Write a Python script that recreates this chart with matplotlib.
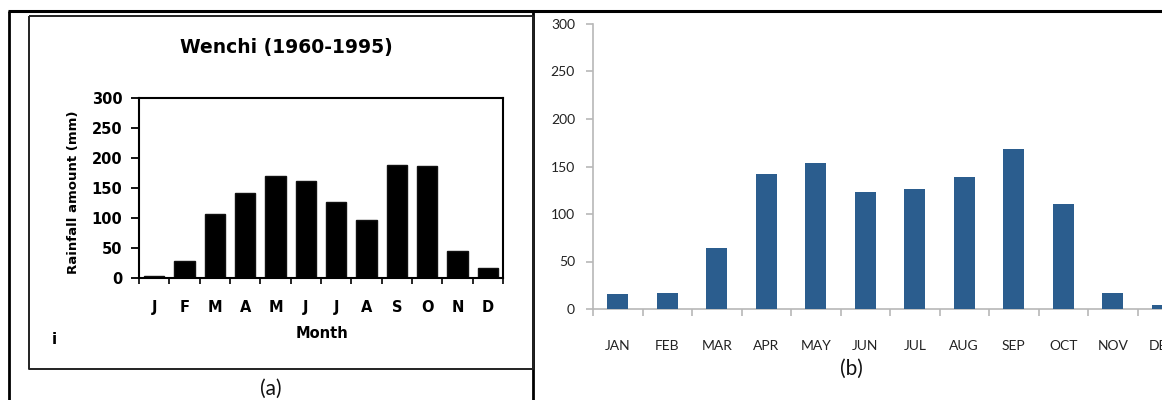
import matplotlib

matplotlib.use("Agg")
import matplotlib.pyplot as plt
import numpy as np
from matplotlib.lines import Line2D

W, H = 1162, 400

# (a) Wenchi 1960-1995, scanned figure
months_a = ["J", "F", "M", "A", "M", "J", "J", "A", "S", "O", "N", "D"]
rain_a = [4, 28, 107, 142, 170, 161, 127, 97, 189, 186, 45, 16]

# (b) re-drawn monthly rainfall
months_b = ["JAN", "FEB", "MAR", "APR", "MAY", "JUN", "JUL", "AUG", "SEP", "OCT", "NOV", "DEC"]
rain_b = [16, 17, 64, 142, 154, 123, 126, 139, 168, 111, 17, 4]

yticks = [0, 50, 100, 150, 200, 250, 300]


def px(x, y):
    """pixel coords (top-left origin) -> figure fraction"""
    return x / W, 1 - y / H


def fig_line(fig, xs, ys, lw=2.0, color="black"):
    fx = [x / W for x in xs]
    fy = [1 - y / H for y in ys]
    fig.add_artist(Line2D(fx, fy, transform=fig.transFigure, color=color, lw=lw,
                          solid_capstyle="butt"))


fig = plt.figure(figsize=(W / 100, H / 100), dpi=100)

# table-like frame around both panels
fig_line(fig, [8, W], [11, 11], lw=2.2)
fig_line(fig, [9, 9], [11, H], lw=2.0)
fig_line(fig, [533, 533], [11, H], lw=2.0)
# box of the scanned figure
fig_line(fig, [29, 533, 533, 29, 29], [16, 16, 369, 369, 16], lw=1.4, color="#222222")

# ---- panel (a) ----
ax = fig.add_axes([139 / W, 1 - 278 / H, 364 / W, 180 / H])
x = np.arange(len(months_a))
ax.bar(x, rain_a, width=0.66, color="black", edgecolor="#111111")
ax.set_xlim(-0.5, 11.5)
ax.set_ylim(0, 300)
ax.set_yticks(yticks)
ax.set_xticks(x)
ax.set_xticklabels(months_a)
ax.set_xticks(np.arange(-0.5, 12, 1), minor=True)
for s in ax.spines.values():
    s.set_linewidth(1.5)
ax.tick_params(axis="x", which="major", length=0, pad=16)
ax.tick_params(axis="x", which="minor", length=4, width=1.2, direction="out")
ax.tick_params(axis="y", length=6, width=1.3, pad=6)
for lab in ax.get_xticklabels():
    lab.set_fontweight("bold")
    lab.set_fontsize(10.5)
for lab in ax.get_yticklabels():
    lab.set_fontweight("bold")
    lab.set_fontsize(10.5)

fig.text(*px(286, 48), "Wenchi (1960-1995)", ha="center", va="center",
         fontsize=13.5, fontweight="bold")
fig.text(*px(74, 192), "Rainfall amount (mm)", ha="center", va="center",
         rotation=90, fontsize=9.5, fontweight="bold")
fig.text(*px(322, 333), "Month", ha="center", va="center", fontsize=10.5,
         fontweight="bold")
fig.text(*px(54, 340), "i", ha="center", va="center", fontsize=11, fontweight="bold")
fig.text(*px(271, 389), "(a)", ha="center", va="center", fontsize=15,
         family="Lato", color="#111111")

# ---- panel (b) ----
gray = "#b8b8b8"
bx = fig.add_axes([593 / W, 1 - 309 / H, 594 / W, 285 / H])
xb = np.arange(len(months_b))
bx.bar(xb, rain_b, width=0.42, color="#2b5d8e", zorder=3)
bx.set_xlim(-0.5, 11.5)
bx.set_ylim(0, 300)
bx.set_yticks(yticks)
bx.set_xticks(xb)
bx.set_xticklabels(months_b)
bx.set_xticks(np.arange(-0.5, 12, 1), minor=True)
for side in ("top", "right"):
    bx.spines[side].set_visible(False)
for side in ("left", "bottom"):
    bx.spines[side].set_color(gray)
    bx.spines[side].set_linewidth(1.2)
bx.tick_params(axis="x", which="major", length=0, pad=22, labelsize=10,
               labelcolor="#222222")
bx.tick_params(axis="x", which="minor", length=5, width=1.2, color=gray,
               direction="out")
bx.tick_params(axis="y", length=5, width=1.2, color=gray, pad=8, labelsize=10,
               labelcolor="#222222")
for lab in bx.get_xticklabels() + bx.get_yticklabels():
    lab.set_family("Lato")

fig.text(*px(851, 369), "(b)", ha="center", va="center", fontsize=15,
         family="Lato", color="#111111")

fig.savefig("out.png", dpi=100)
